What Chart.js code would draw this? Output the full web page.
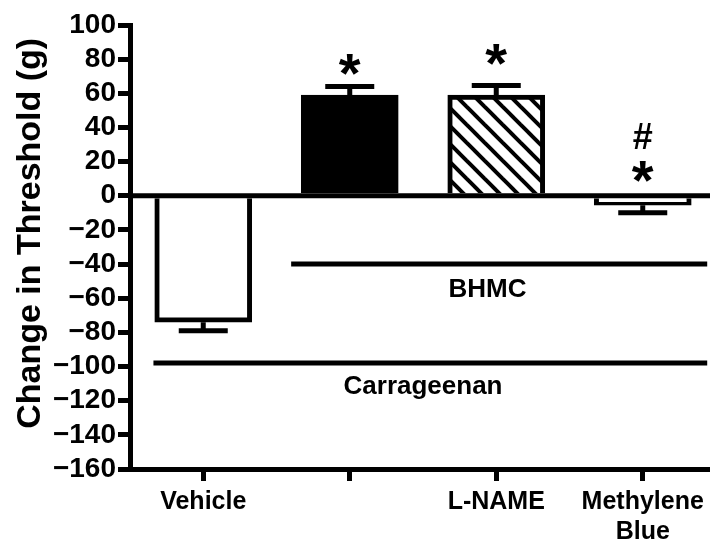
<!DOCTYPE html>
<html>
<head>
<meta charset="utf-8">
<script src="https://cdn.jsdelivr.net/npm/chart.js@4.4.0/dist/chart.umd.min.js"></script>
<style>
html, body { margin: 0; padding: 0; overflow: hidden; background: #fff; }
</style>
</head>
<body>
<canvas id="thresholdChart" width="716" height="544"></canvas>
<script>
// values
var groups = ['Vehicle', '', 'L-NAME', ['Methylene', 'Blue']];
var meanChange = [-74, 59, 59, -5.5];
var semChange = [5, 5, 5.5, 4.5];
var sigMarks = [[], ['*'], ['*'], ['#', '*']];
var yMin = -160, yMax = 100, yStep = 20;
var yTitle = 'Change in Threshold (g)';

// treatment bars under the plot (in category units)
var treatLabels = ['BHMC', 'Carrageenan'];
var treatLevel = [-40, -98];
var treatFrom = [0.6, -0.34];
var treatTo = [3.44, 3.44];
var treatTextAt = [1.94, 1.5];

var FONT = '"Liberation Sans", Arial, sans-serif';

var ctx = document.getElementById('thresholdChart').getContext('2d');

function hatch() {
    var s = 18;
    var c = document.createElement('canvas');
    c.width = s; c.height = s;
    var g = c.getContext('2d');
    g.fillStyle = '#fff';
    g.fillRect(0, 0, s, s);
    g.strokeStyle = '#000';
    g.lineWidth = 4;
    [-s, 0, s].forEach(function (o) {
        g.beginPath();
        g.moveTo(o - 3, -3);
        g.lineTo(o + s + 3, s + 3);
        g.stroke();
    });
    return ctx.createPattern(c, 'repeat');
}

function centeredText(c, txt, x, cy) {
    var m = c.measureText(txt);
    var base = cy + (m.actualBoundingBoxAscent - m.actualBoundingBoxDescent) / 2;
    c.fillText(txt, x, base);
}

// y positions (data units) of the significance marks
var markLevel = [[], [77], [83], [35, 14]];

var extras = {
    id: 'extras',
    afterDatasetsDraw: function (chart) {
        var c = chart.ctx, xs = chart.scales.x, ys = chart.scales.y, area = chart.chartArea;
        c.save();
        c.strokeStyle = '#000';
        c.fillStyle = '#000';
        c.lineWidth = 5;
        c.lineCap = 'butt';

        // zero line
        var y0 = ys.getPixelForValue(0);
        c.beginPath();
        c.moveTo(area.left, y0);
        c.lineTo(area.right, y0);
        c.stroke();

        // error bars
        meanChange.forEach(function (m, i) {
            var x = xs.getPixelForValue(i);
            var end = m < 0 ? m - semChange[i] : m + semChange[i];
            var p1 = ys.getPixelForValue(m), p2 = ys.getPixelForValue(end);
            c.beginPath();
            c.moveTo(x, p1);
            c.lineTo(x, p2);
            c.moveTo(x - 24.5, p2);
            c.lineTo(x + 24.5, p2);
            c.stroke();
        });

        // significance marks
        c.textAlign = 'center';
        c.textBaseline = 'alphabetic';
        sigMarks.forEach(function (marks, i) {
            var x = xs.getPixelForValue(i);
            marks.forEach(function (t, k) {
                c.font = (t === '*' ? 'bold 56px ' : 'bold 36px ') + FONT;
                centeredText(c, t, x, ys.getPixelForValue(markLevel[i][k]));
            });
        });

        // treatment bars
        c.font = 'bold 26px ' + FONT;
        treatLabels.forEach(function (lab, i) {
            var py = ys.getPixelForValue(treatLevel[i]);
            c.beginPath();
            c.moveTo(xs.getPixelForValue(treatFrom[i]), py);
            c.lineTo(xs.getPixelForValue(treatTo[i]), py);
            c.stroke();
            centeredText(c, lab, xs.getPixelForValue(treatTextAt[i]), py + 24);
        });

        // y axis title, a little above the plot centre as in the figure
        c.save();
        c.translate(31, ys.getPixelForValue(-22));
        c.rotate(-Math.PI / 2);
        c.font = 'bold 34px ' + FONT;
        c.textBaseline = 'middle';
        c.fillText(yTitle, 0, 0);
        c.restore();

        c.restore();
    }
};

var myChart = new Chart(ctx, {
    type: 'bar',
    data: {
        labels: groups,
        datasets: [{
            data: meanChange,
            backgroundColor: ['#fff', '#000', hatch(), '#fff'],
            borderColor: '#000',
            borderWidth: 5,
            barThickness: 97
        }]
    },
    options: {
        responsive: false,
        animation: false,
        layout: { padding: { top: 25, right: 0, bottom: 0, left: 0 } },
        plugins: { legend: { display: false }, tooltip: { enabled: false } },
        scales: {
            x: {
                offset: true,
                grid: { offset: false, drawOnChartArea: false, color: '#000', lineWidth: 5, tickLength: 12 },
                border: { color: '#000', width: 5 },
                ticks: {
                    color: '#000', padding: 6, maxRotation: 0, autoSkip: false,
                    font: { family: FONT, size: 25, weight: 'bold' }
                },
                afterFit: function (s) { s.height = 75; }
            },
            y: {
                min: yMin,
                max: yMax,
                grid: { drawOnChartArea: false, color: '#000', lineWidth: 5, tickLength: 12 },
                border: { color: '#000', width: 5 },
                ticks: {
                    stepSize: yStep, color: '#000', padding: 2, autoSkip: false,
                    font: { family: FONT, size: 28, weight: 'bold' },
                    callback: function (v) { return v < 0 ? '\u2212' + Math.abs(v) : String(v); }
                },
                afterFit: function (s) { s.width = 130; }
            }
        }
    },
    plugins: [extras]
});
</script>
</body>
</html>
